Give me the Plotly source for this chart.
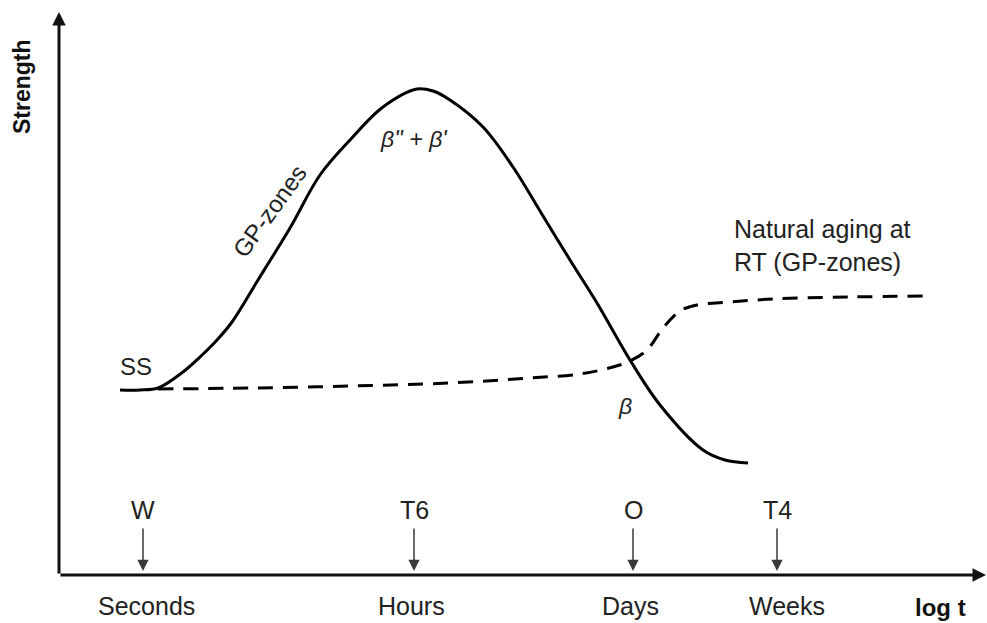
import plotly.graph_objects as go

# Schematic age-hardening curve: strength vs. log(time), arbitrary units
peak_x = [1.20, 1.40, 1.58, 1.83, 2.00, 2.17, 2.32, 2.58, 2.90, 3.20, 3.50, 3.83, 4.17,
          4.33, 4.50, 4.83, 5.13, 5.40, 5.70, 5.97, 6.30, 6.60, 7.03, 7.25, 7.48]
peak_y = [2.33, 2.33, 2.35, 2.51, 2.66, 2.83, 3.01, 3.43, 3.95, 4.48, 4.83, 5.16, 5.34,
          5.32, 5.23, 4.96, 4.56, 4.12, 3.63, 3.20, 2.63, 2.18, 1.73, 1.63, 1.60]

# Natural aging at room temperature
nat_x = [1.58, 2.50, 3.50, 4.50, 5.30, 5.80, 6.13, 6.30, 6.47, 6.63, 6.80, 6.97, 7.30,
         7.73, 8.50, 9.25]
nat_y = [2.34, 2.35, 2.37, 2.40, 2.45, 2.49, 2.56, 2.62, 2.73, 2.95, 3.12, 3.18, 3.21,
         3.24, 3.26, 3.27]

# Temper markers along the time axis
temper_labels = ["W", "T6", "O", "T4"]
temper_x = [1.43, 4.14, 6.33, 7.77]

# Time-scale labels
time_labels = ["Seconds", "Hours", "Days", "Weeks"]
time_x = [1.46, 4.11, 6.30, 7.87]

FONT = "Liberation Sans, Arial, sans-serif"
TXT = "#222222"

fig = go.Figure()

fig.add_trace(go.Scatter(
    x=peak_x, y=peak_y, mode="lines",
    line=dict(color="black", width=3, shape="spline", smoothing=1.0),
    hoverinfo="skip", showlegend=False,
))
fig.add_trace(go.Scatter(
    x=nat_x, y=nat_y, mode="lines",
    line=dict(color="black", width=3, dash="15px,10px", shape="spline", smoothing=1.0),
    hoverinfo="skip", showlegend=False,
))

ann = []

# Axes drawn as arrows from the origin
origin = (0.59, 0.48)
ann.append(dict(x=origin[0], y=6.11, ax=origin[0], ay=origin[1],
                xref="x", yref="y", axref="x", ayref="y",
                showarrow=True, arrowhead=2, arrowsize=0.9, arrowwidth=3,
                arrowcolor="#111111", text=""))
ann.append(dict(x=9.86, y=origin[1], ax=origin[0], ay=origin[1],
                xref="x", yref="y", axref="x", ayref="y",
                showarrow=True, arrowhead=2, arrowsize=0.9, arrowwidth=3,
                arrowcolor="#111111", text=""))

# Temper markers: label plus downward arrow
for lab, xv in zip(temper_labels, temper_x):
    ann.append(dict(x=xv, y=0.52, ax=xv, ay=0.96,
                    xref="x", yref="y", axref="x", ayref="y",
                    showarrow=True, arrowhead=2, arrowsize=1.5, arrowwidth=1.5,
                    arrowcolor="#3a3a3a", text=""))
    ann.append(dict(x=xv, y=1.13, xref="x", yref="y", text=lab, showarrow=False,
                    font=dict(family=FONT, size=25, color=TXT)))

for lab, xv in zip(time_labels, time_x):
    ann.append(dict(x=xv, y=0.17, xref="x", yref="y", text=lab, showarrow=False,
                    font=dict(family=FONT, size=25, color=TXT)))

ann.append(dict(x=9.40, y=0.16, xref="x", yref="y", text="<b>log t</b>", showarrow=False,
                font=dict(family=FONT, size=24, color="#111111")))

ann.append(dict(x=0.22, y=5.36, xref="x", yref="y", text="<b>Strength</b>", showarrow=False,
                textangle=-90, font=dict(family=FONT, size=23, color="#111111")))

# Curve labels
ann.append(dict(x=1.36, y=2.57, xref="x", yref="y", text="SS", showarrow=False,
                font=dict(family=FONT, size=24, color=TXT)))
ann.append(dict(x=2.69, y=4.12, xref="x", yref="y", text="GP-zones", showarrow=False,
                textangle=-54, font=dict(family=FONT, size=24, color=TXT)))
ann.append(dict(x=4.14, y=4.84, xref="x", yref="y", text="<i>β'' + β'</i>", showarrow=False,
                font=dict(family=FONT, size=23, color=TXT)))
ann.append(dict(x=6.25, y=2.17, xref="x", yref="y", text="<i>β</i>", showarrow=False,
                font=dict(family=FONT, size=23, color=TXT)))
ann.append(dict(x=7.32, y=3.78, xref="x", yref="y",
                text="Natural aging at<br>RT (GP-zones)", showarrow=False,
                xanchor="left", align="left",
                font=dict(family=FONT, size=25, color=TXT)))

fig.update_layout(
    width=987, height=623,
    margin=dict(l=0, r=0, t=0, b=0),
    paper_bgcolor="white", plot_bgcolor="white",
    xaxis=dict(range=[0, 9.87], visible=False, fixedrange=True),
    yaxis=dict(range=[0, 6.23], visible=False, fixedrange=True),
    annotations=ann,
    showlegend=False,
)

fig.write_html("out.html")
